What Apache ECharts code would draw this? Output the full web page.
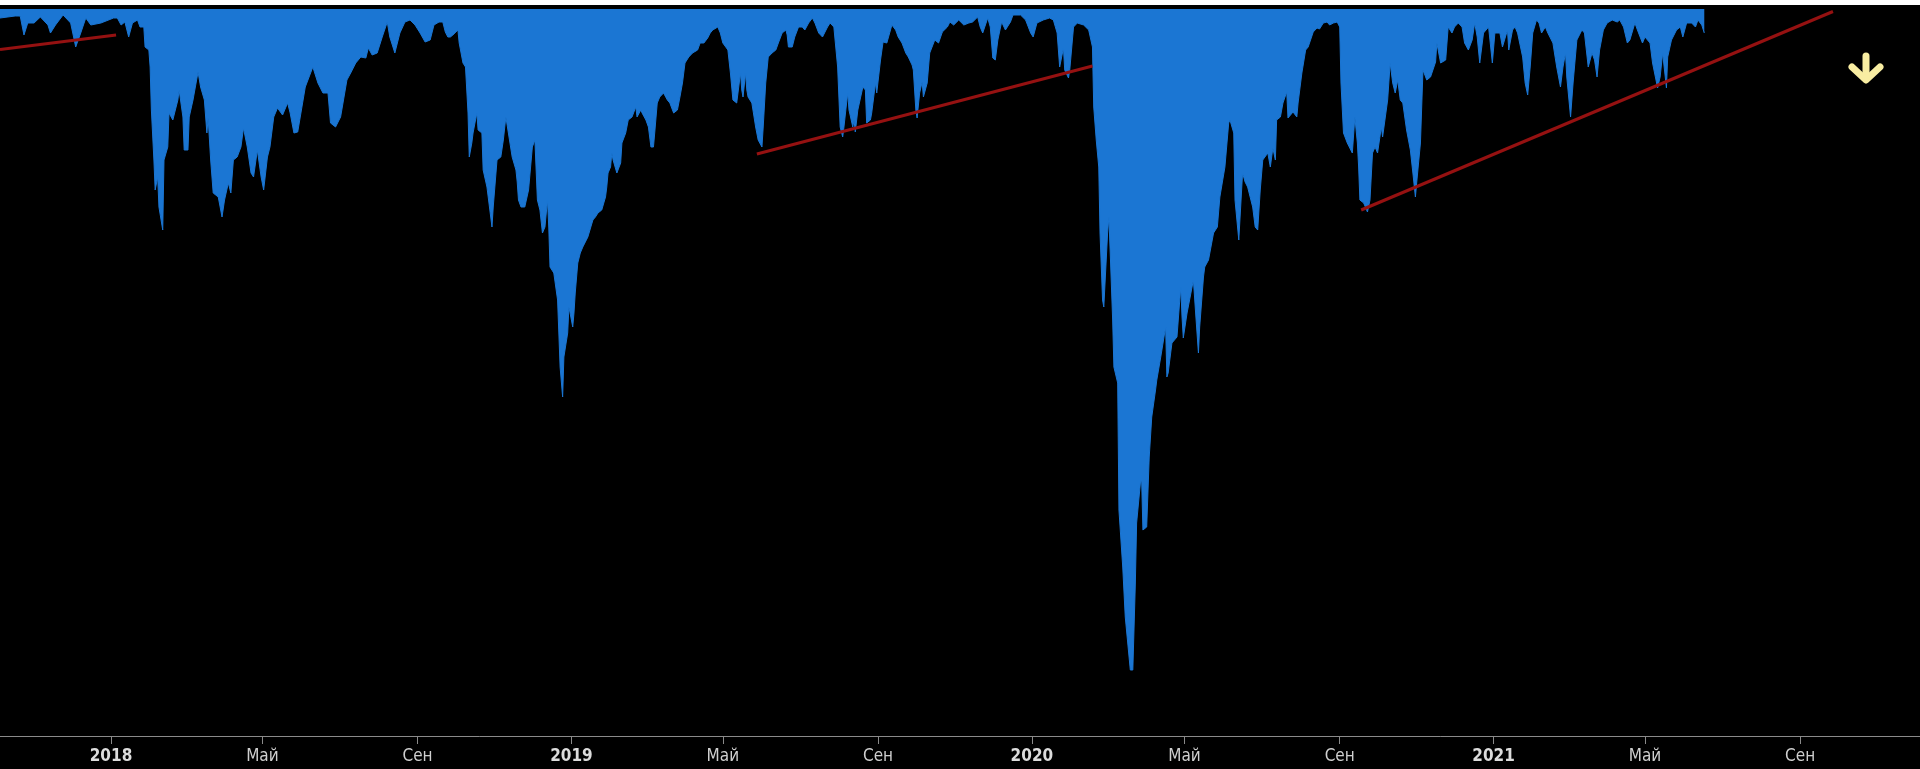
<!DOCTYPE html>
<html>
<head>
<meta charset="utf-8">
<script src="https://cdn.jsdelivr.net/npm/echarts@6/dist/echarts.min.js"></script>
<style>
html,body{margin:0;padding:0;background:#000;}
#chart{width:1920px;height:769px;}
</style>
</head>
<body>
<div id="chart"></div>
<script>
// Dates are given as days counted from this base date
const baseDate = [2018, 0, 1];

// Drawdown series (days from base date, depth values)
const dayOffsets = [
-88,-76,-72,-69,-66,-61,-56,-50,-48,-44,-38,-32,-28,-24,-20,-16,-8,2,5,8,11,14,17,21,23,26,27,30,31,32,34,35,37,38,41,42,45,46,49,53,54,57,58,61,62,65,69,71,74,76,77,79,81,85,88,90,93,95,97,100,103,105,108,111,113,116,119,121,124,126,129,132,136,140,142,145,148,150,154,160,164,168,172,174,178,182,187,190,194,198,202,204,207,211,215,219,221,225,229,233,237,241,245,249,253,256,260,263,265,267,
269,271,275,276,279,281,283,284,286,287,290,291,294,295,298,302,303,306,309,311,313,315,318,321,322,323,325,328,331,334,336,338,340,342,344,346,347,348,351,354,355,356,358,359,362,363,366,367,368,370,372,374,378,382,384,386,389,392,393,394,396,397,398,401,404,405,408,410,413,416,417,420,421,424,426,428,430,431,433,435,438,441,443,446,449,451,453,455,458,461,465,467,470,473,475,477,481,483,485,489,491,493,496,497,499,500,501,503,504,505,508,511,513,516,517,519,521,524,527,529,532,535,536,537,540,542,545,548,550,553,556,558,561,564,568,570,573,576,578,580,581,584,585,588,589,590,592,596,598,599,602,603,606,607,610,612,
615,619,622,624,627,630,632,635,636,638,639,641,643,644,647,649,653,656,659,663,665,668,672,676,680,683,687,689,691,695,697,699,701,703,706,709,713,715,721,725,729,731,734,739,744,747,750,752,755,756,759,760,763,766,771,775,778,779,781,783,784,786,787,790,791,792,794,795,798,799,802,804,808,809,810,812,813,816,817,818,821,823,825,828,829,832,836,837,838,841,845,848,849,850,853,855,858,860,862,863,866,867,870,874,877,879,883,886,887,890,891,894,897,899,901,905,907,909,911,913,917,919,921,923,924,927,929,932,933,937,940,941,944,947,949,953,956,958,961,964,966,969,972,974,
975,977,980,984,985,986,988,989,990,993,996,998,1000,1002,1004,1007,1008,1012,1014,1016,1018,1020,1022,1024,1027,1030,1032,1034,1035,1038,1040,1043,1046,1050,1051,1054,1058,1060,1063,1065,1068,1071,1073,1076,1079,1081,1083,1085,1088,1092,1095,1097,1101,1103,1107,1108,1111,1113,1115,1119,1121,1123,1125,1127,1130,1132,1134,1137,1139,1143,1146,1149,1151,1153,1154,1157,1159,1162,1166,1168,1171,1174,1176,1178,1180,1183,1186,1190,1194,1196,1199,1202,1204,1208,1210,1214,1216,1220,1222,1226,1228,1230,1233,1234,1237,1241,1244,1246,1249,1253,1256,1258,1261,1263
];
const depthValues = [
-0.9,-0.7,-0.7,-2.6,-1.4,-1.4,-0.8,-1.6,-2.4,-1.6,-0.6,-1.4,-3.8,-2.4,-0.9,-1.6,-1.4,-0.9,-0.9,-1.6,-1.3,-2.8,-1.4,-1.1,-1.8,-1.8,-3.8,-4.1,-5.8,-10.1,-15.1,-18.1,-16.8,-19.8,-22.1,-15.1,-13.8,-10.4,-11.1,-9.1,-8.1,-10.8,-14.1,-14.1,-10.8,-9.1,-6.3,-7.8,-9.1,-12.4,-10.9,-15.1,-18.4,-18.8,-20.8,-19.1,-17.4,-18.4,-15.1,-14.8,-13.8,-11.9,-13.8,-16.4,-16.8,-14.1,-16.8,-18.1,-14.8,-13.8,-10.8,-9.9,-10.6,-9.4,-10.4,-12.4,-12.3,-10.8,-7.8,-5.8,-7.4,-8.4,-8.4,-11.4,-11.8,-10.8,-7.1,-6.4,-5.4,-4.8,-4.9,-3.9,-4.6,-4.4,-2.8,-1.3,-2.8,-4.4,-2.4,-1.3,-1.1,-1.6,-2.4,-3.3,-3.1,-1.6,-1.3,-1.3,-2.3,-2.8,
-2.8,-2.6,-2.1,-3.4,-5.4,-5.8,-10.4,-14.8,-13.4,-12.4,-10.4,-12.1,-12.4,-16.1,-17.8,-21.8,-19.8,-15.1,-14.8,-13.1,-10.8,-12.4,-14.8,-16.1,-17.3,-19.1,-19.8,-19.8,-18.1,-13.8,-13.1,-19.1,-20.1,-22.4,-21.8,-19.1,-21.8,-25.8,-26.4,-29.1,-32.4,-35.8,-38.8,-34.8,-32.4,-29.8,-31.8,-30.4,-28.4,-25.4,-24.4,-23.8,-22.8,-21.1,-20.8,-20.4,-20.1,-18.8,-17.8,-16.4,-15.8,-14.4,-15.1,-16.4,-15.4,-13.4,-12.4,-11.1,-10.8,-9.8,-10.8,-10.1,-10.4,-11.1,-11.8,-13.8,-13.8,-12.4,-9.4,-8.8,-8.4,-9.1,-9.4,-10.4,-10.1,-8.8,-7.4,-5.4,-4.8,-4.4,-4.1,-3.4,-3.4,-2.9,-2.4,-2.1,-1.8,-2.4,-3.4,-4.1,-6.4,-9.1,-9.4,-8.4,-6.4,-8.1,-8.8,-6.4,-8.1,-8.8,-9.4,-11.8,-13.1,-13.8,-11.8,-7.4,-4.8,-4.4,-4.1,-3.4,-2.4,-2.1,-2.6,-3.8,-3.8,-2.8,-1.8,-1.8,-2.1,-1.4,-0.9,-1.4,-2.4,-2.8,-1.8,-1.4,-1.8,-5.8,-11.8,-12.8,-11.8,-8.4,-10.1,-11.8,-11.1,-12.3,-10.1,-7.8,-8.1,-11.4,-11.1,-10.4,-7.4,-8.4,-5.1,-3.3,
-3.4,-1.6,-2.1,-2.8,-3.4,-4.4,-4.8,-5.6,-6.1,-10.1,-10.9,-8.4,-7.3,-8.8,-7.4,-4.4,-3.1,-3.4,-2.3,-1.8,-1.3,-1.6,-1.1,-1.6,-1.4,-1.3,-0.8,-1.8,-2.4,-0.9,-1.8,-4.9,-5.1,-3.1,-1.3,-2.1,-1.3,-0.6,-0.6,-1.1,-2.4,-2.8,-1.4,-1.1,-0.9,-1.1,-2.4,-5.8,-3.9,-6.1,-6.9,-6.1,-1.8,-1.4,-1.6,-2.1,-3.8,-9.8,-13.1,-15.8,-22.4,-29.1,-29.8,-22.4,-20.8,-24.1,-31.1,-35.8,-37.4,-50.1,-55.8,-60.8,-66.1,-66.3,-66.1,-57.4,-51.4,-47.4,-47.1,-52.1,-51.8,-44.8,-40.8,-38.1,-37.1,-34.9,-31.8,-36.8,-36.4,-33.4,-32.8,-27.8,-30.8,-32.9,-30.4,-29.1,-27.1,-30.8,-34.4,-31.8,-26.8,-25.8,-25.1,-22.4,-21.8,-18.8,-15.8,-11.4,-11.1,-12.4,-19.1,-23.1,-16.4,-17.3,-17.8,-19.8,-21.8,-22.1,-18.1,-15.1,-14.4,-15.8,-13.9,-15.1,-11.1,-10.8,-9.4,-8.3,-10.9,-10.3,-10.8,-9.4,-6.4,-4.1,-3.8,-2.3,-1.9,-2.0,-1.4,-1.3,-1.6,-1.4,-1.3,-1.8,
-7.4,-12.4,-13.4,-14.4,-14.6,-10.8,-13.4,-15.8,-19.1,-19.4,-20.3,-19.1,-14.4,-13.8,-14.4,-11.8,-12.8,-9.1,-5.4,-7.4,-8.4,-7.1,-9.1,-9.4,-12.1,-14.1,-16.4,-18.8,-17.4,-13.4,-6.1,-7.1,-6.8,-5.3,-3.4,-5.4,-5.1,-1.8,-2.4,-1.8,-1.4,-1.8,-3.4,-4.1,-3.1,-1.4,-2.8,-5.4,-2.4,-1.8,-5.4,-2.4,-2.4,-3.8,-2.1,-4.1,-2.1,-1.8,-2.4,-4.8,-7.4,-8.6,-5.8,-2.4,-1.1,-1.4,-2.4,-1.8,-2.4,-3.4,-5.8,-7.8,-5.8,-4.4,-6.8,-10.8,-7.4,-3.1,-2.1,-2.4,-5.8,-4.4,-5.1,-6.8,-4.1,-2.1,-1.4,-1.1,-1.3,-1.1,-1.8,-3.4,-3.1,-1.4,-2.1,-3.4,-2.8,-3.4,-5.4,-7.9,-6.8,-4.4,-7.9,-4.8,-3.1,-2.1,-1.8,-2.8,-1.4,-1.4,-1.8,-1.1,-1.6,-2.4
];

// Trend lines: [start day, end day] and [start value, end value]
const trend1Days = [-88, 4];
const trend1Values = [-4.05, -2.6];
const trend2Days = [512, 778];
const trend2Values = [-14.5, -5.7];
const trend3Days = [991, 1365];
const trend3Values = [-20.1, -0.25];

// X axis range (days from base date)
const axisStartDay = -88;
const axisEndDay = 1434;

// Axis tick dates and their labels
const tickDates = ['2018-01-01','2018-05-01','2018-09-01','2019-01-01','2019-05-01','2019-09-01','2020-01-01','2020-05-01','2020-09-01','2021-01-01','2021-05-01','2021-09-01'];
const tickLabels = ['2018','Май','Сен','2019','Май','Сен','2020','Май','Сен','2021','Май','Сен'];

function dayTs(d) { return new Date(baseDate[0], baseDate[1], baseDate[2] + d).getTime(); }
function dateTs(s) { const p = s.split('-').map(Number); return new Date(p[0], p[1] - 1, p[2]).getTime(); }

const areaData = dayOffsets.map((d, i) => [dayTs(d), depthValues[i]]);
function trendData(days, vals) { return days.map((d, i) => [dayTs(d), vals[i]]); }
const tickTs = tickDates.map(dateTs);

const FONT = "'DejaVu Sans Condensed', 'DejaVu Sans', sans-serif";
const chart = echarts.init(document.getElementById('chart'), null, {renderer: 'canvas'});
const trendStyle = {color: '#951111', width: 3};
chart.setOption({
  backgroundColor: '#000',
  animation: false,
  grid: {left: 0, right: 0, top: 9, bottom: 33, containLabel: false},
  xAxis: {
    type: 'value',
    min: dayTs(axisStartDay),
    max: dayTs(axisEndDay),
    scale: true,
    axisLine: {show: true, onZero: false, lineStyle: {color: '#8a8a8a', width: 1}},
    axisTick: {show: true, customValues: tickTs, length: 8, lineStyle: {color: '#8a8a8a'}},
    axisLabel: {
      show: true,
      customValues: tickTs,
      margin: 12,
      color: '#cfcfcf',
      fontSize: 17,
      fontFamily: FONT,
      formatter: function (val) {
        let best = 0, bd = Infinity;
        tickTs.forEach((t, i) => { const dd = Math.abs(t - val); if (dd < bd) { bd = dd; best = i; } });
        const lab = tickLabels[best];
        return /^\d{4}$/.test(lab) ? '{yr|' + lab + '}' : lab;
      },
      rich: {yr: {fontWeight: 'bold', fontSize: 17, color: '#dcdcdc', fontFamily: FONT}}
    },
    splitLine: {show: false}
  },
  yAxis: {
    type: 'value',
    min: -72.7,
    max: 0,
    show: false,
    splitLine: {show: false}
  },
  graphic: [
    {type: 'rect', shape: {x: 0, y: 0, width: 1920, height: 5}, style: {fill: '#ffffff'}, z: 100},
    {type: 'polyline', shape: {points: [[1866, 56], [1866, 79]]}, style: {stroke: '#f8eda2', lineWidth: 7, lineCap: 'round', fill: null}, z: 100},
    {type: 'polyline', shape: {points: [[1852, 67], [1866, 80], [1880, 67]]}, style: {stroke: '#f8eda2', lineWidth: 7, lineCap: 'round', lineJoin: 'round', fill: null}, z: 100}
  ],
  series: [
    {
      type: 'line',
      data: areaData,
      showSymbol: false,
      symbol: 'none',
      lineStyle: {color: '#1b76d3', width: 1},
      areaStyle: {color: '#1b76d3', opacity: 1, origin: 'end'},
      silent: true,
      z: 2
    },
    {type: 'line', data: trendData(trend1Days, trend1Values), symbol: 'none', lineStyle: trendStyle, silent: true, z: 3},
    {type: 'line', data: trendData(trend2Days, trend2Values), symbol: 'none', lineStyle: trendStyle, silent: true, z: 3},
    {type: 'line', data: trendData(trend3Days, trend3Values), symbol: 'none', lineStyle: trendStyle, silent: true, z: 3}
  ]
});
</script>
</body>
</html>
